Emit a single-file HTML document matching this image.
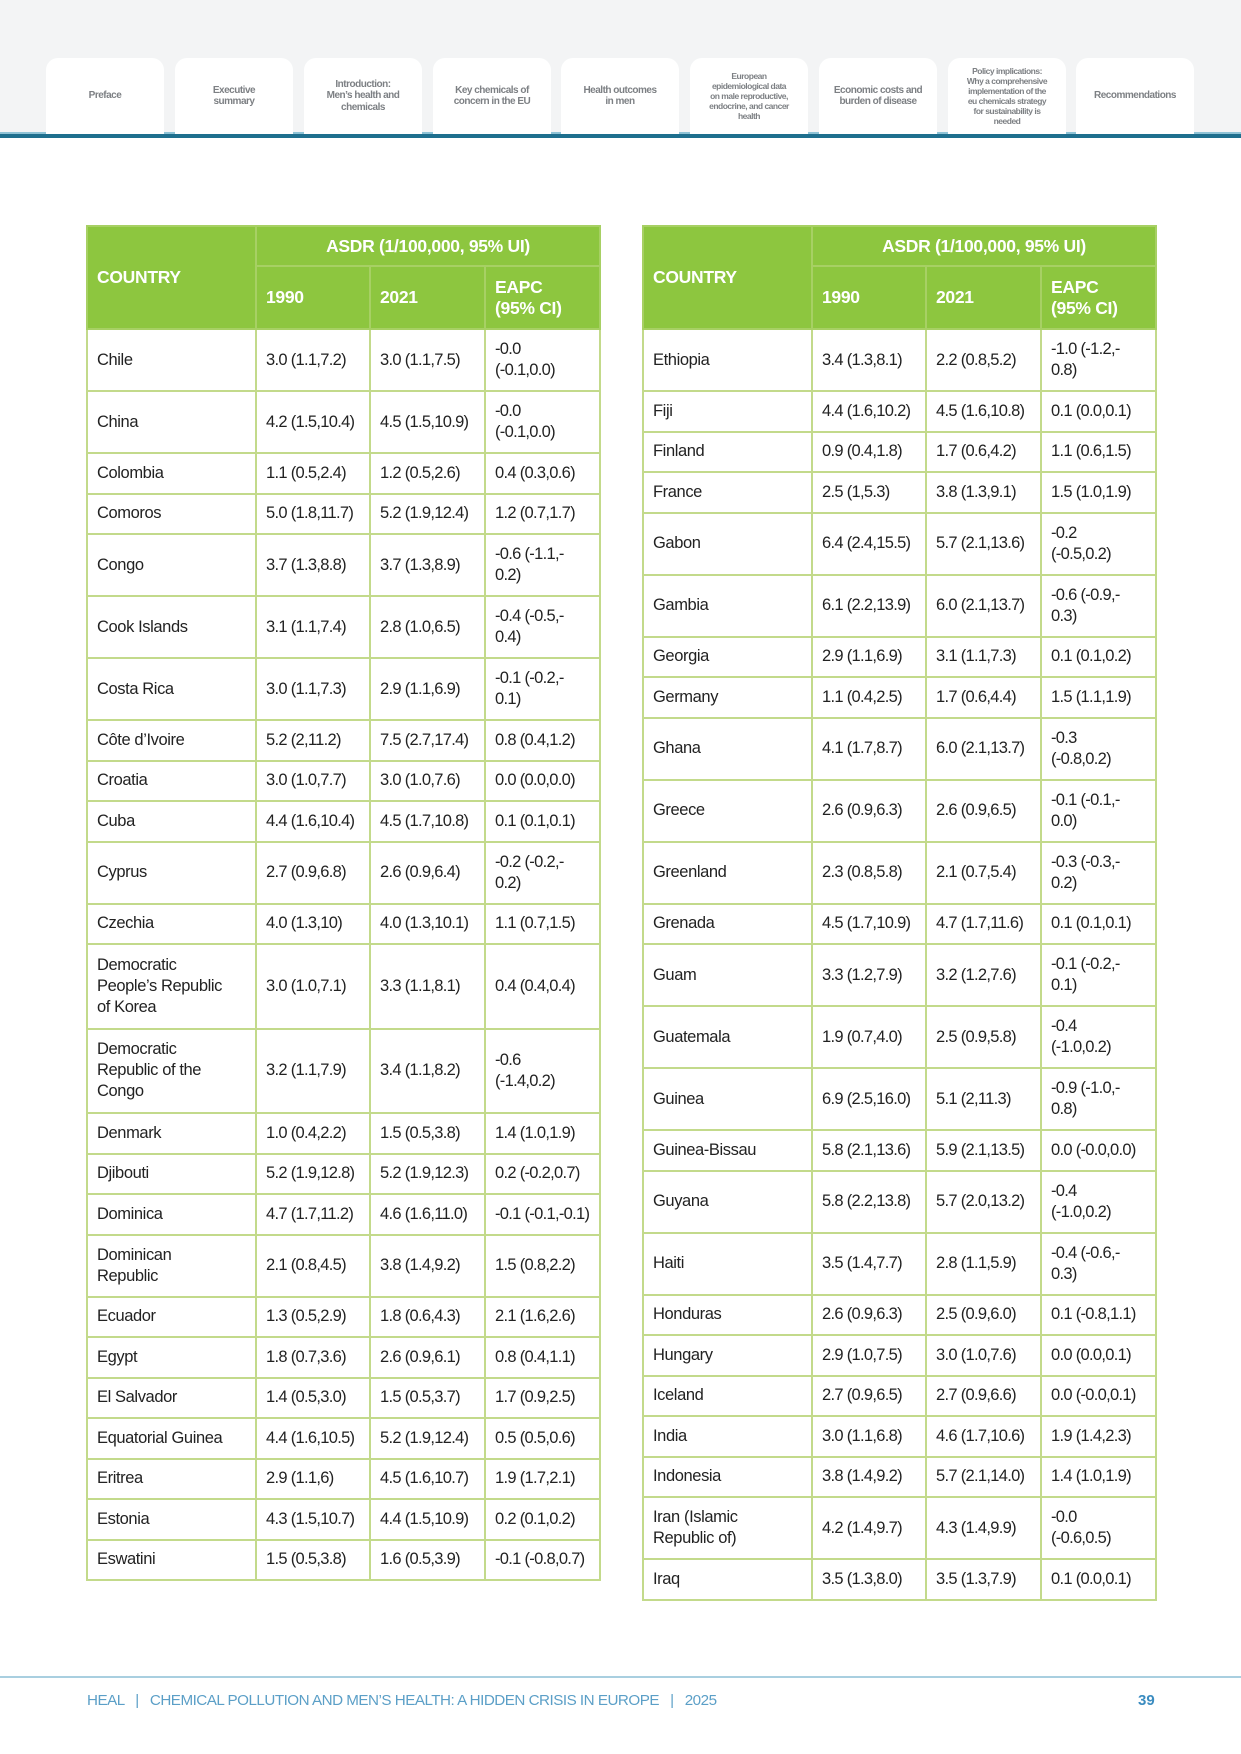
<!DOCTYPE html>
<html><head><meta charset="utf-8"><style>
*{margin:0;padding:0;box-sizing:border-box}
body{width:1241px;height:1754px;background:#fff;font-family:"Liberation Sans",sans-serif;position:relative;overflow:hidden}
.top{position:absolute;left:0;top:0;width:1241px;height:135px;background:#f3f4f5}
.bar{position:absolute;left:0;top:134px;width:1241px;height:4px;background:#1e6f8e}
.bar2{position:absolute;left:0;top:132px;width:1241px;height:2px;background:#8fc3d6}
.tab{position:absolute;top:58px;width:118px;height:76px;background:#fff;border-radius:12px 12px 0 0;display:flex;align-items:center;justify-content:center;text-align:center;color:#7d8084;font-weight:bold;font-size:10px;line-height:11.5px;letter-spacing:-0.5px;padding:0 5px}
.tab.s{font-size:8.5px;line-height:10px}
table{position:absolute;top:225px;border-collapse:collapse;table-layout:fixed;font-size:16.5px;letter-spacing:-0.4px;color:#222}
td,th{border:2px solid #c3da8b;padding:0 9px;vertical-align:middle;text-align:left;line-height:21px;white-space:nowrap}
td+td{letter-spacing:-0.7px}
th{background:#8dc63f;color:#fff;font-weight:bold;border-color:#a7d064;font-size:17.5px;letter-spacing:-0.3px}
.h1{height:40px;text-align:center}
.h2{height:63px}
.r1{height:40.5px}.r2{height:62px}.r3{height:84.5px}
.foot{position:absolute;top:1676px;left:0;width:1241px;height:2px;background:#a9cfe0}
.ft{position:absolute;top:1692px;left:87px;color:#5b9fc7;font-size:15.2px;letter-spacing:-0.5px}
.pg{position:absolute;top:1692px;left:1138px;color:#3b8cc0;font-size:15px;font-weight:bold}
</style></head><body>
<div class="top"></div><div class="bar2"></div><div class="bar"></div>
<div class="tab" style="left:46px">Preface</div>
<div class="tab" style="left:175px">Executive<br>summary</div>
<div class="tab" style="left:304px">Introduction:<br>Men’s health and<br>chemicals</div>
<div class="tab" style="left:433px">Key chemicals of<br>concern in the EU</div>
<div class="tab" style="left:561px">Health outcomes<br>in men</div>
<div class="tab s" style="left:690px">European<br>epidemiological data<br>on male reproductive,<br>endocrine, and cancer<br>health</div>
<div class="tab" style="left:819px">Economic costs and<br>burden of disease</div>
<div class="tab s" style="left:948px">Policy implications:<br>Why a comprehensive<br>implementation of the<br>eu chemicals strategy<br>for sustainability is<br>needed</div>
<div class="tab" style="left:1076px">Recommendations</div>

<table style="left:86px;width:513px">
<colgroup><col style="width:169px"><col style="width:114px"><col style="width:115px"><col style="width:115px"></colgroup>
<tr><th rowspan="2">COUNTRY</th><th colspan="3" class="h1">ASDR (1/100,000, 95% UI)</th></tr>
<tr class="h2"><th>1990</th><th>2021</th><th>EAPC<br>(95% CI)</th></tr>
<tr class="r2"><td>Chile</td><td>3.0 (1.1,7.2)</td><td>3.0 (1.1,7.5)</td><td>-0.0<br>(-0.1,0.0)</td></tr>
<tr class="r2"><td>China</td><td>4.2 (1.5,10.4)</td><td>4.5 (1.5,10.9)</td><td>-0.0<br>(-0.1,0.0)</td></tr>
<tr class="r1"><td>Colombia</td><td>1.1 (0.5,2.4)</td><td>1.2 (0.5,2.6)</td><td>0.4 (0.3,0.6)</td></tr>
<tr class="r1"><td>Comoros</td><td>5.0 (1.8,11.7)</td><td>5.2 (1.9,12.4)</td><td>1.2 (0.7,1.7)</td></tr>
<tr class="r2"><td>Congo</td><td>3.7 (1.3,8.8)</td><td>3.7 (1.3,8.9)</td><td>-0.6 (-1.1,-<br>0.2)</td></tr>
<tr class="r2"><td>Cook Islands</td><td>3.1 (1.1,7.4)</td><td>2.8 (1.0,6.5)</td><td>-0.4 (-0.5,-<br>0.4)</td></tr>
<tr class="r2"><td>Costa Rica</td><td>3.0 (1.1,7.3)</td><td>2.9 (1.1,6.9)</td><td>-0.1 (-0.2,-<br>0.1)</td></tr>
<tr class="r1"><td>Côte d’Ivoire</td><td>5.2 (2,11.2)</td><td>7.5 (2.7,17.4)</td><td>0.8 (0.4,1.2)</td></tr>
<tr class="r1"><td>Croatia</td><td>3.0 (1.0,7.7)</td><td>3.0 (1.0,7.6)</td><td>0.0 (0.0,0.0)</td></tr>
<tr class="r1"><td>Cuba</td><td>4.4 (1.6,10.4)</td><td>4.5 (1.7,10.8)</td><td>0.1 (0.1,0.1)</td></tr>
<tr class="r2"><td>Cyprus</td><td>2.7 (0.9,6.8)</td><td>2.6 (0.9,6.4)</td><td>-0.2 (-0.2,-<br>0.2)</td></tr>
<tr class="r1"><td>Czechia</td><td>4.0 (1.3,10)</td><td>4.0 (1.3,10.1)</td><td>1.1 (0.7,1.5)</td></tr>
<tr class="r3"><td>Democratic<br>People’s Republic<br>of Korea</td><td>3.0 (1.0,7.1)</td><td>3.3 (1.1,8.1)</td><td>0.4 (0.4,0.4)</td></tr>
<tr class="r3"><td>Democratic<br>Republic of the<br>Congo</td><td>3.2 (1.1,7.9)</td><td>3.4 (1.1,8.2)</td><td>-0.6<br>(-1.4,0.2)</td></tr>
<tr class="r1"><td>Denmark</td><td>1.0 (0.4,2.2)</td><td>1.5 (0.5,3.8)</td><td>1.4 (1.0,1.9)</td></tr>
<tr class="r1"><td>Djibouti</td><td>5.2 (1.9,12.8)</td><td>5.2 (1.9,12.3)</td><td>0.2 (-0.2,0.7)</td></tr>
<tr class="r1"><td>Dominica</td><td>4.7 (1.7,11.2)</td><td>4.6 (1.6,11.0)</td><td>-0.1 (-0.1,-0.1)</td></tr>
<tr class="r2"><td>Dominican<br>Republic</td><td>2.1 (0.8,4.5)</td><td>3.8 (1.4,9.2)</td><td>1.5 (0.8,2.2)</td></tr>
<tr class="r1"><td>Ecuador</td><td>1.3 (0.5,2.9)</td><td>1.8 (0.6,4.3)</td><td>2.1 (1.6,2.6)</td></tr>
<tr class="r1"><td>Egypt</td><td>1.8 (0.7,3.6)</td><td>2.6 (0.9,6.1)</td><td>0.8 (0.4,1.1)</td></tr>
<tr class="r1"><td>El Salvador</td><td>1.4 (0.5,3.0)</td><td>1.5 (0.5,3.7)</td><td>1.7 (0.9,2.5)</td></tr>
<tr class="r1"><td>Equatorial Guinea</td><td>4.4 (1.6,10.5)</td><td>5.2 (1.9,12.4)</td><td>0.5 (0.5,0.6)</td></tr>
<tr class="r1"><td>Eritrea</td><td>2.9 (1.1,6)</td><td>4.5 (1.6,10.7)</td><td>1.9 (1.7,2.1)</td></tr>
<tr class="r1"><td>Estonia</td><td>4.3 (1.5,10.7)</td><td>4.4 (1.5,10.9)</td><td>0.2 (0.1,0.2)</td></tr>
<tr class="r1"><td>Eswatini</td><td>1.5 (0.5,3.8)</td><td>1.6 (0.5,3.9)</td><td>-0.1 (-0.8,0.7)</td></tr>
</table>

<table style="left:642px;width:513px">
<colgroup><col style="width:169px"><col style="width:114px"><col style="width:115px"><col style="width:115px"></colgroup>
<tr><th rowspan="2">COUNTRY</th><th colspan="3" class="h1">ASDR (1/100,000, 95% UI)</th></tr>
<tr class="h2"><th>1990</th><th>2021</th><th>EAPC<br>(95% CI)</th></tr>
<tr class="r2"><td>Ethiopia</td><td>3.4 (1.3,8.1)</td><td>2.2 (0.8,5.2)</td><td>-1.0 (-1.2,-<br>0.8)</td></tr>
<tr class="r1"><td>Fiji</td><td>4.4 (1.6,10.2)</td><td>4.5 (1.6,10.8)</td><td>0.1 (0.0,0.1)</td></tr>
<tr class="r1"><td>Finland</td><td>0.9 (0.4,1.8)</td><td>1.7 (0.6,4.2)</td><td>1.1 (0.6,1.5)</td></tr>
<tr class="r1"><td>France</td><td>2.5 (1,5.3)</td><td>3.8 (1.3,9.1)</td><td>1.5 (1.0,1.9)</td></tr>
<tr class="r2"><td>Gabon</td><td>6.4 (2.4,15.5)</td><td>5.7 (2.1,13.6)</td><td>-0.2<br>(-0.5,0.2)</td></tr>
<tr class="r2"><td>Gambia</td><td>6.1 (2.2,13.9)</td><td>6.0 (2.1,13.7)</td><td>-0.6 (-0.9,-<br>0.3)</td></tr>
<tr class="r1"><td>Georgia</td><td>2.9 (1.1,6.9)</td><td>3.1 (1.1,7.3)</td><td>0.1 (0.1,0.2)</td></tr>
<tr class="r1"><td>Germany</td><td>1.1 (0.4,2.5)</td><td>1.7 (0.6,4.4)</td><td>1.5 (1.1,1.9)</td></tr>
<tr class="r2"><td>Ghana</td><td>4.1 (1.7,8.7)</td><td>6.0 (2.1,13.7)</td><td>-0.3<br>(-0.8,0.2)</td></tr>
<tr class="r2"><td>Greece</td><td>2.6 (0.9,6.3)</td><td>2.6 (0.9,6.5)</td><td>-0.1 (-0.1,-<br>0.0)</td></tr>
<tr class="r2"><td>Greenland</td><td>2.3 (0.8,5.8)</td><td>2.1 (0.7,5.4)</td><td>-0.3 (-0.3,-<br>0.2)</td></tr>
<tr class="r1"><td>Grenada</td><td>4.5 (1.7,10.9)</td><td>4.7 (1.7,11.6)</td><td>0.1 (0.1,0.1)</td></tr>
<tr class="r2"><td>Guam</td><td>3.3 (1.2,7.9)</td><td>3.2 (1.2,7.6)</td><td>-0.1 (-0.2,-<br>0.1)</td></tr>
<tr class="r2"><td>Guatemala</td><td>1.9 (0.7,4.0)</td><td>2.5 (0.9,5.8)</td><td>-0.4<br>(-1.0,0.2)</td></tr>
<tr class="r2"><td>Guinea</td><td>6.9 (2.5,16.0)</td><td>5.1 (2,11.3)</td><td>-0.9 (-1.0,-<br>0.8)</td></tr>
<tr class="r1"><td>Guinea-Bissau</td><td>5.8 (2.1,13.6)</td><td>5.9 (2.1,13.5)</td><td>0.0 (-0.0,0.0)</td></tr>
<tr class="r2"><td>Guyana</td><td>5.8 (2.2,13.8)</td><td>5.7 (2.0,13.2)</td><td>-0.4<br>(-1.0,0.2)</td></tr>
<tr class="r2"><td>Haiti</td><td>3.5 (1.4,7.7)</td><td>2.8 (1.1,5.9)</td><td>-0.4 (-0.6,-<br>0.3)</td></tr>
<tr class="r1"><td>Honduras</td><td>2.6 (0.9,6.3)</td><td>2.5 (0.9,6.0)</td><td>0.1 (-0.8,1.1)</td></tr>
<tr class="r1"><td>Hungary</td><td>2.9 (1.0,7.5)</td><td>3.0 (1.0,7.6)</td><td>0.0 (0.0,0.1)</td></tr>
<tr class="r1"><td>Iceland</td><td>2.7 (0.9,6.5)</td><td>2.7 (0.9,6.6)</td><td>0.0 (-0.0,0.1)</td></tr>
<tr class="r1"><td>India</td><td>3.0 (1.1,6.8)</td><td>4.6 (1.7,10.6)</td><td>1.9 (1.4,2.3)</td></tr>
<tr class="r1"><td>Indonesia</td><td>3.8 (1.4,9.2)</td><td>5.7 (2.1,14.0)</td><td>1.4 (1.0,1.9)</td></tr>
<tr class="r2"><td>Iran (Islamic<br>Republic of)</td><td>4.2 (1.4,9.7)</td><td>4.3 (1.4,9.9)</td><td>-0.0<br>(-0.6,0.5)</td></tr>
<tr class="r1"><td>Iraq</td><td>3.5 (1.3,8.0)</td><td>3.5 (1.3,7.9)</td><td>0.1 (0.0,0.1)</td></tr>
</table>

<div class="foot"></div>
<div class="ft">HEAL &nbsp;&nbsp;| &nbsp;&nbsp;CHEMICAL POLLUTION AND MEN’S HEALTH: A HIDDEN CRISIS IN EUROPE &nbsp;&nbsp;| &nbsp;&nbsp;2025</div>
<div class="pg">39</div>
</body></html>
